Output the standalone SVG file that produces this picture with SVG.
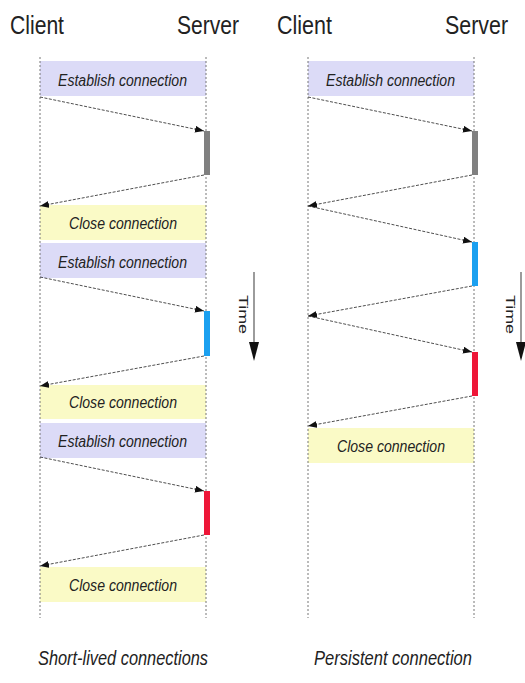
<svg xmlns="http://www.w3.org/2000/svg" width="525" height="683" viewBox="0 0 525 683">
<style>
text{font-family:"Liberation Sans",Arial,sans-serif;fill:#222}
.hd{font-size:26px}
.lb{font-size:16px;font-style:italic}
.cap{font-size:20px;font-style:italic}
.life{stroke:#777;stroke-width:1;stroke-dasharray:2 2;fill:none}
.est{fill:#dcdbf7}
.cls{fill:#fafac6}
.msg{stroke:#222;stroke-width:0.8;stroke-dasharray:3 1.5;fill:none;marker-end:url(#ah)}
.tl{stroke:#666;stroke-width:1.3}
</style>
<defs>
<marker id="ah" markerUnits="userSpaceOnUse" markerWidth="10" markerHeight="8" refX="9" refY="3.5" orient="auto">
<path d="M0,0 L9,3.5 L0,7 z" fill="#111"/>
</marker>
</defs>
<rect width="525" height="683" fill="#fff"/>
<g id="headers">
<text class="hd" x="10" y="34" textLength="54" lengthAdjust="spacingAndGlyphs">Client</text>
<text class="hd" x="177" y="34" textLength="62" lengthAdjust="spacingAndGlyphs">Server</text>
<text class="hd" x="277" y="34" textLength="55" lengthAdjust="spacingAndGlyphs">Client</text>
<text class="hd" x="445" y="34" textLength="63" lengthAdjust="spacingAndGlyphs">Server</text>
</g>
<g id="boxes-left">
<g id="est1"><rect class="est" x="40" y="61" width="166" height="35"/><text class="lb" x="58" y="86" textLength="129" lengthAdjust="spacingAndGlyphs">Establish connection</text></g>
<g id="cls1"><rect class="cls" x="40" y="205" width="166" height="35"/><text class="lb" x="69" y="229" textLength="108" lengthAdjust="spacingAndGlyphs">Close connection</text></g>
<g id="est2"><rect class="est" x="40" y="243" width="166" height="35"/><text class="lb" x="58" y="268" textLength="129" lengthAdjust="spacingAndGlyphs">Establish connection</text></g>
<g id="cls2"><rect class="cls" x="40" y="385" width="166" height="34"/><text class="lb" x="69" y="408" textLength="108" lengthAdjust="spacingAndGlyphs">Close connection</text></g>
<g id="est3"><rect class="est" x="40" y="423" width="166" height="35"/><text class="lb" x="58" y="447" textLength="129" lengthAdjust="spacingAndGlyphs">Establish connection</text></g>
<g id="cls3"><rect class="cls" x="40" y="567" width="166" height="35"/><text class="lb" x="69" y="591" textLength="108" lengthAdjust="spacingAndGlyphs">Close connection</text></g>
</g>
<g id="boxes-right">
<g id="est4"><rect class="est" x="308" y="61" width="166" height="35"/><text class="lb" x="326" y="86" textLength="129" lengthAdjust="spacingAndGlyphs">Establish connection</text></g>
<g id="cls4"><rect class="cls" x="308" y="428" width="166" height="35"/><text class="lb" x="337" y="452" textLength="108" lengthAdjust="spacingAndGlyphs">Close connection</text></g>
</g>
<g id="lifelines">
<line class="life" x1="40" y1="57" x2="40" y2="618"/>
<line class="life" x1="206" y1="57" x2="206" y2="618"/>
<line class="life" x1="308" y1="57" x2="308" y2="618"/>
<line class="life" x1="474" y1="57" x2="474" y2="618"/>
</g>
<g id="bars">
<rect x="204" y="131" width="6" height="44" fill="#808080"/>
<rect x="204" y="311" width="6" height="45" fill="#1ba0f0"/>
<rect x="204" y="491" width="6" height="44" fill="#ee1638"/>
<rect x="472" y="131" width="6" height="44" fill="#808080"/>
<rect x="472" y="242" width="6" height="44" fill="#1ba0f0"/>
<rect x="472" y="352" width="6" height="44" fill="#ee1638"/>
</g>
<g id="connectors">
<line class="msg" x1="40" y1="97" x2="204" y2="131"/>
<line class="msg" x1="204" y1="175" x2="40" y2="206"/>
<line class="msg" x1="40" y1="277" x2="204" y2="311"/>
<line class="msg" x1="204" y1="356" x2="40" y2="386"/>
<line class="msg" x1="40" y1="457" x2="204" y2="491"/>
<line class="msg" x1="204" y1="535" x2="40" y2="566"/>
<line class="msg" x1="308" y1="97" x2="472" y2="131"/>
<line class="msg" x1="472" y1="175" x2="308" y2="206"/>
<line class="msg" x1="308" y1="206" x2="472" y2="242"/>
<line class="msg" x1="472" y1="286" x2="308" y2="316"/>
<line class="msg" x1="308" y1="316" x2="472" y2="352"/>
<line class="msg" x1="472" y1="396" x2="308" y2="426"/>
</g>
<g id="time-left">
<line class="tl" x1="254" y1="272" x2="254" y2="345"/>
<path d="M249,342 L259,342 L254,361 z" fill="#111"/>
<text x="0" y="0" transform="translate(239,295) rotate(90)" style="font-size:13px" textLength="39" lengthAdjust="spacingAndGlyphs">Time</text>
</g>
<g id="time-right">
<line class="tl" x1="521" y1="272" x2="521" y2="345"/>
<path d="M516,342 L526,342 L521,361 z" fill="#111"/>
<text x="0" y="0" transform="translate(506,295) rotate(90)" style="font-size:13px" textLength="39" lengthAdjust="spacingAndGlyphs">Time</text>
</g>
<g id="captions">
<text class="cap" x="38" y="665" textLength="170" lengthAdjust="spacingAndGlyphs">Short-lived connections</text>
<text class="cap" x="314" y="665" textLength="158" lengthAdjust="spacingAndGlyphs">Persistent connection</text>
</g>
</svg>
